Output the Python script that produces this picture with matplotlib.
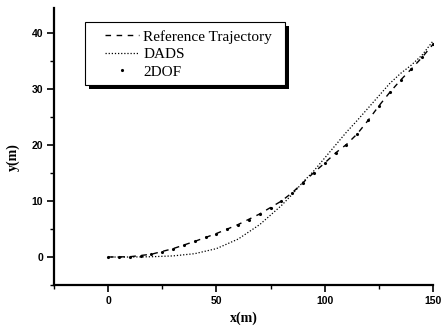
import matplotlib
matplotlib.use("Agg")
import matplotlib.pyplot as plt
from matplotlib.ticker import MultipleLocator
from matplotlib.patches import Rectangle

# Data
ref_x = [0, 10, 20, 30, 40, 50, 60, 70, 80, 85, 90, 95, 100, 105, 110, 115, 120, 125, 130, 135, 140, 145, 150]
ref_y = [0, 0.05, 0.5, 1.5, 2.8, 4.2, 5.8, 7.7, 10.0, 11.5, 13.3, 15.1, 16.8, 18.6, 20.1, 22.0, 24.4, 27.0, 29.4, 31.6, 33.6, 35.7, 38.0]

dads_x = [0, 10, 20, 30, 40, 50, 60, 70, 80, 85, 90, 95, 100, 105, 110, 115, 120, 125, 130, 135, 140, 145, 150]
dads_y = [0, 0, 0.05, 0.2, 0.6, 1.5, 3.2, 5.8, 9.2, 11.2, 13.4, 15.4, 17.7, 20.0, 22.3, 24.4, 26.6, 28.8, 31.0, 32.8, 34.3, 36.1, 38.6]

dof_x = [0, 5, 10, 15, 20, 25, 30, 35, 40, 45, 50, 55, 60, 65, 70, 75, 80, 85, 90, 95, 100, 105, 110, 115, 120, 125, 130, 135, 140, 145, 150]
dof_y = [0, 0, 0.05, 0.2, 0.5, 0.9, 1.5, 2.1, 2.8, 3.5, 4.2, 5.0, 5.8, 6.7, 7.7, 8.8, 10.0, 11.5, 13.3, 15.1, 16.8, 18.6, 20.1, 22.0, 24.4, 27.0, 29.4, 31.6, 33.6, 35.7, 38.0]

labels = ["Reference Trajectory", "DADS", "2DOF"]

W, H = 441, 331
fig = plt.figure(figsize=(W/100, H/100), dpi=100)
ax = fig.add_axes([54/W, 1-285/H, (433-54)/W, (285-8)/H])

ax.plot(ref_x, ref_y, color="black", linestyle=(0, (4, 4)), linewidth=1.0, label=labels[0])
ax.plot(dads_x, dads_y, color="black", linestyle=(0, (1, 1.5)), linewidth=0.9, label=labels[1])
ax.plot(dof_x, dof_y, color="black", linestyle="none", marker=".", markersize=2.5, label=labels[2])

ax.set_xlim(-25, 150)
ax.set_ylim(-5, 44.5)

ax.spines["top"].set_visible(False)
ax.spines["right"].set_visible(False)
for s in ("left", "bottom"):
    ax.spines[s].set_linewidth(1.6)

ax.xaxis.set_major_locator(MultipleLocator(50))
ax.xaxis.set_minor_locator(MultipleLocator(25))
ax.yaxis.set_major_locator(MultipleLocator(10))
ax.yaxis.set_minor_locator(MultipleLocator(5))
ax.tick_params(which="major", direction="out", length=5, width=1.2, labelsize=7.5, pad=3)
ax.tick_params(which="minor", direction="out", length=3, width=1.0)
for lab in ax.get_xticklabels() + ax.get_yticklabels():
    lab.set_fontfamily("Liberation Sans")
    lab.set_fontweight("bold")

ax.set_xlabel("x(m)", fontfamily="Liberation Serif", fontweight="bold", fontsize=10, labelpad=4)
ax.set_ylabel("y(m)", fontfamily="Liberation Serif", fontweight="bold", fontsize=10)
ax.yaxis.set_label_coords((20-54)/(433-54), (285-157)/(285-8))

# Legend frame with black shadow (figure pixel coordinates)
bx0, by0, bx1, by1 = 85, 22, 285, 85
sh = 4
ax.add_patch(Rectangle(((bx0+sh)/W, 1-(by1+sh)/H), (bx1-bx0)/W, (by1-by0)/H,
                       transform=fig.transFigure, facecolor="black", edgecolor="black",
                       linewidth=0, zorder=5, clip_on=False))
ax.add_patch(Rectangle((bx0/W, 1-by1/H), (bx1-bx0)/W, (by1-by0)/H,
                       transform=fig.transFigure, facecolor="white", edgecolor="black",
                       linewidth=0.8, zorder=6, clip_on=False))

leg = ax.legend(loc="upper left", bbox_to_anchor=(105/W, 1-30/H), bbox_transform=fig.transFigure,
                borderaxespad=0, frameon=False,
                prop={"family": "Liberation Serif", "size": 11},
                handlelength=2.2, handletextpad=0.3, labelspacing=0.25, borderpad=0.0)
leg.set_zorder(7)

fig.savefig("out.png", dpi=100)
